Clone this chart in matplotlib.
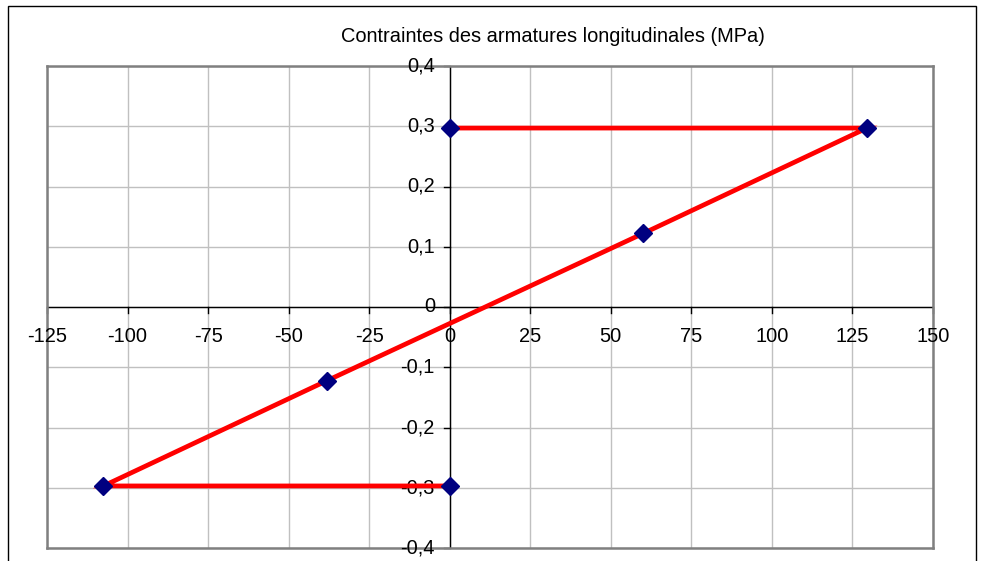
import matplotlib
matplotlib.use("Agg")
import matplotlib.pyplot as plt
from matplotlib.patches import Rectangle

plt.rcParams['font.family'] = ['Liberation Sans', 'DejaVu Sans']

title = "Contraintes des armatures longitudinales (MPa)"
x_vals = [0, 129.5, 60, -38, -107.5, 0]
y_vals = [0.297, 0.297, 0.122, -0.122, -0.297, -0.297]
x_ticks = [-125, -100, -75, -50, -25, 0, 25, 50, 75, 100, 125, 150]
y_ticks = [-0.4, -0.3, -0.2, -0.1, 0, 0.1, 0.2, 0.3, 0.4]

W, H = 981, 561
fig = plt.figure(figsize=(W / 100, H / 100), dpi=100)
fig.patch.set_facecolor('white')

# outer chart border
fig.patches.append(Rectangle((8 / W, -0.05), (976 - 8) / W, (H - 6) / H + 0.05,
                             transform=fig.transFigure, fill=False,
                             edgecolor='black', lw=1.0))

left, right, top, bottom = 47, 933, 66, 548
ax = fig.add_axes([left / W, (H - bottom) / H, (right - left) / W, (bottom - top) / H])
ax.set_xlim(-125, 150)
ax.set_ylim(-0.4, 0.4)

# grid
for xv in x_ticks:
    ax.axvline(xv, color='#c0c0c0', lw=1.0, zorder=0)
for yv in y_ticks:
    ax.axhline(yv, color='#c0c0c0', lw=1.0, zorder=0)

for s in ['top', 'right', 'left', 'bottom']:
    ax.spines[s].set_color('#808080')
    ax.spines[s].set_linewidth(1.8)
ax.set_xticks([])
ax.set_yticks([])

# axes through origin
ax.axhline(0, color='black', lw=1.0, zorder=1)
ax.axvline(0, color='black', lw=1.0, zorder=1)

fs = 14.4
tx = 6 / 3.222  # tick length in data units (x)
ty = 6 / 602.5  # tick length in data units (y)
for xv in x_ticks:
    ax.plot([xv, xv], [0, -ty], color='black', lw=1.0, zorder=1, clip_on=False)
    ax.text(xv, -0.049, f"{xv}", ha='center', va='center', fontsize=fs, color='black')
for yv in y_ticks:
    ax.plot([0, -tx], [yv, yv], color='black', lw=1.0, zorder=1, clip_on=False)
    lab = f"{yv:.1f}".replace('.', ',') if yv != 0 else "0"
    ax.text(-4.6, yv, lab, ha='right', va='center', fontsize=fs, color='black')

ax.plot(x_vals, y_vals, color='#ff0000', lw=3.4, zorder=3,
        marker='D', markersize=9.5, markerfacecolor='#000080', markeredgecolor='#000080',
        solid_joinstyle='miter')

fig.text(553 / W, 1 - 36 / H, title, ha='center', va='center', fontsize=fs)

fig.savefig('out.png', dpi=100)
